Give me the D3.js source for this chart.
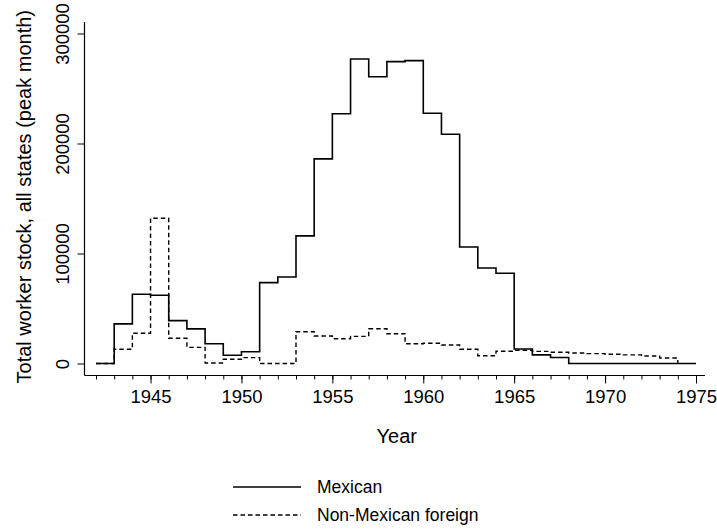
<!DOCTYPE html>
<html>
<head>
<meta charset="utf-8">
<script src="https://cdn.jsdelivr.net/npm/d3@7"></script>
<style>
  body { margin: 0; background: #fff; }
  svg { display: block; font-family: "Liberation Sans", Arial, sans-serif; }
</style>
</head>
<body>
<div id="chart"></div>
<script>
// ===== Données =====
const years = d3.range(1942, 1976);
const mexican = [
  0, 36000, 63000, 62000, 39000, 31500, 18000, 7500, 10700, 73500,
  78600, 116000, 186000, 227000, 276800, 260700, 274400, 275300, 227500, 208400,
  105900, 86800, 82000, 13200, 7800, 5500, 0, 0, 0, 0,
  0, 0, 0, 0
];
const nonMexican = [
  0, 12900, 27500, 132000, 22900, 14700, 500, 3800, 5300, 0,
  0, 28900, 25000, 22500, 24700, 31600, 27100, 17900, 18400, 16800,
  12900, 7000, 11200, 12000, 11000, 10200, 9500, 9000, 8400, 7800,
  6800, 5000, 0
];
const yTicks = [0, 100000, 200000, 300000];
const xLabelYears = [1945, 1950, 1955, 1960, 1965, 1970, 1975];
const seriesNames = ["Mexican", "Non-Mexican foreign"];

// ===== Dimensions =====
const W = 717, H = 529;
const plot = { left: 84.5, right: 705, top: 22, bottom: 375.5 };
const tickFs = 18.5, titleFs = 20, legendFs = 17.5;

const svg = d3.select("#chart").append("svg")
  .attr("width", W)
  .attr("height", H);

const x = d3.scaleLinear().domain([1942, 1975]).range([96, 696]);
const y = d3.scaleLinear().domain([0, 300000]).range([363.5, 33.5]);

// ===== Lignes en escalier =====
const stair = d3.line()
  .x((d) => x(d.year))
  .y((d) => y(d.value))
  .curve(d3.curveStepAfter);

const mexData = mexican.map((v, i) => ({ year: years[i], value: v }));
const nonData = nonMexican.map((v, i) => ({ year: years[i], value: v }));

svg.append("path")
  .datum(mexData)
  .attr("fill", "none")
  .attr("stroke", "#000")
  .attr("stroke-width", 1.6)
  .attr("d", stair);

svg.append("path")
  .datum(nonData)
  .attr("fill", "none")
  .attr("stroke", "#000")
  .attr("stroke-width", 1.4)
  .attr("stroke-dasharray", "4.5,3")
  .attr("d", stair);

// ===== Axes =====
svg.append("line")
  .attr("x1", plot.left).attr("x2", plot.left)
  .attr("y1", plot.top).attr("y2", plot.bottom)
  .attr("stroke", "#000").attr("stroke-width", 1.2);
svg.append("line")
  .attr("x1", plot.left).attr("x2", plot.right)
  .attr("y1", plot.bottom).attr("y2", plot.bottom)
  .attr("stroke", "#000").attr("stroke-width", 1.2);

// y ticks
const yAxis = svg.append("g")
  .attr("transform", `translate(${plot.left},0)`)
  .call(d3.axisLeft(y).tickValues(yTicks).tickSize(7).tickFormat(d3.format("d")));
yAxis.select(".domain").remove();
yAxis.selectAll(".tick line").attr("stroke", "#000").attr("stroke-width", 1);
yAxis.selectAll(".tick text")
  .attr("x", null).attr("dy", null)
  .attr("transform", "translate(-16,0) rotate(-90)")
  .attr("text-anchor", "middle")
  .style("font-size", tickFs + "px")
  .attr("fill", "#000");

// x ticks (mineurs chaque année)
const xMinor = svg.append("g")
  .attr("transform", `translate(0,${plot.bottom})`)
  .call(d3.axisBottom(x).tickValues(years).tickSize(4).tickFormat(""));
xMinor.select(".domain").remove();
xMinor.selectAll(".tick line").attr("stroke", "#000");

const xAxis = svg.append("g")
  .attr("transform", `translate(0,${plot.bottom})`)
  .call(d3.axisBottom(x).tickValues(xLabelYears).tickSize(8).tickPadding(6).tickFormat(d3.format("d")));
xAxis.select(".domain").remove();
xAxis.selectAll(".tick line").attr("stroke", "#000");
xAxis.selectAll(".tick text")
  .style("font-size", tickFs + "px")
  .attr("fill", "#000");

// ===== Titres =====
svg.append("text")
  .attr("transform", `translate(31,${(plot.top + plot.bottom) / 2 - 2}) rotate(-90)`)
  .attr("text-anchor", "middle")
  .style("font-size", titleFs + "px")
  .text("Total worker stock, all states (peak month)");

svg.append("text")
  .attr("x", (plot.left + plot.right) / 2 + 2)
  .attr("y", 443)
  .attr("text-anchor", "middle")
  .style("font-size", titleFs + "px")
  .text("Year");

// ===== Légende =====
const legend = svg.append("g");
seriesNames.forEach((name, i) => {
  const ly = 487 + i * 28;
  legend.append("line")
    .attr("x1", 233).attr("x2", 301)
    .attr("y1", ly).attr("y2", ly)
    .attr("stroke", "#000")
    .attr("stroke-width", i === 0 ? 1.6 : 1.4)
    .attr("stroke-dasharray", i === 0 ? null : "4.5,3");
  legend.append("text")
    .attr("x", 317)
    .attr("y", ly + 6)
    .style("font-size", legendFs + "px")
    .text(name);
});
</script>
</body>
</html>
